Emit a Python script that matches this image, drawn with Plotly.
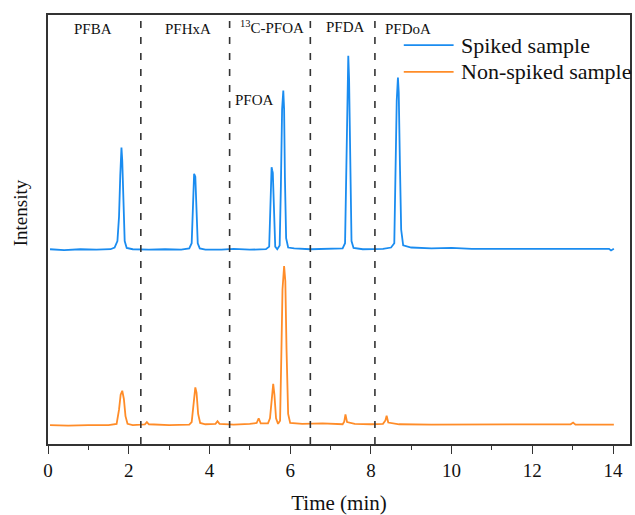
import plotly.graph_objects as go

# Spiked sample chromatogram (time in min, intensity in arbitrary units)
spiked_time = [0.05, 0.4, 0.8, 1.2, 1.55, 1.65, 1.72, 1.76, 1.79, 1.82, 1.84, 1.87, 1.9, 1.95,
               2.1, 2.5, 2.9, 3.3, 3.5, 3.56, 3.59, 3.62, 3.65, 3.68, 3.71, 3.76, 3.9,
               4.3, 4.6, 5.0, 5.4, 5.48, 5.52, 5.54, 5.555, 5.57, 5.6, 5.63, 5.68,
               5.74, 5.77, 5.8, 5.83, 5.85, 5.87, 5.9, 5.95, 6.1, 6.5, 7.0, 7.3,
               7.36, 7.39, 7.42, 7.44, 7.46, 7.49, 7.52, 7.57, 7.8, 8.3, 8.5,
               8.58, 8.61, 8.64, 8.67, 8.69, 8.72, 8.75, 8.8, 9.0, 9.5, 10.0, 10.5,
               11.0, 11.5, 12.0, 12.5, 13.0, 13.5, 13.9, 13.95, 14.02]
spiked_int = [45.4, 45.2, 45.4, 45.3, 45.4, 45.8, 47.3, 53.0, 62.5, 69.1, 66.0, 55.0, 47.3, 45.7,
              45.4, 45.3, 45.4, 45.3, 45.6, 46.8, 54.0, 63.0, 62.3, 54.0, 46.8, 45.6, 45.3,
              45.3, 45.5, 45.3, 45.4, 46.0, 56.0, 64.5, 63.8, 63.2, 52.0, 46.0, 45.4,
              46.3, 60.0, 78.0, 82.4, 78.0, 62.0, 48.0, 45.8, 45.6, 45.4, 45.6, 45.6,
              46.8, 62.0, 85.0, 90.5, 85.0, 62.0, 47.3, 45.7, 45.4, 45.5, 45.8,
              46.8, 62.0, 80.0, 85.4, 82.0, 65.0, 50.0, 46.3, 45.8, 45.6, 45.7, 45.5,
              45.5, 45.6, 45.6, 45.5, 45.5, 45.6, 45.5, 45.1, 45.5]

# Non-spiked sample chromatogram
nonspiked_time = [0.05, 0.5, 1.0, 1.5, 1.7, 1.76, 1.8, 1.84, 1.88, 1.92, 1.97, 2.1, 2.3, 2.4,
                  2.45, 2.5, 3.0, 3.5, 3.56, 3.6, 3.65, 3.68, 3.72, 3.77, 3.9, 4.15, 4.2, 4.25,
                  4.6, 5.0, 5.17, 5.22, 5.27, 5.45, 5.5, 5.55, 5.58, 5.61, 5.65, 5.7,
                  5.75, 5.78, 5.81, 5.85, 5.88, 5.91, 5.95, 6.0, 6.3, 6.8, 7.3, 7.34,
                  7.37, 7.41, 7.6, 8.0, 8.3, 8.36, 8.39, 8.43, 8.7, 9.5, 10.5, 11.5,
                  12.5, 12.95, 13.01, 13.07, 14.02]
nonspiked_int = [4.4, 4.3, 4.4, 4.4, 4.7, 8.0, 11.5, 12.4, 10.5, 6.5, 4.7, 4.4, 4.5, 4.6,
                 5.1, 4.6, 4.4, 4.5, 5.1, 9.0, 13.2, 12.0, 7.0, 4.9, 4.6, 4.7, 5.3, 4.7,
                 4.5, 4.7, 4.9, 6.0, 4.8, 4.8, 6.0, 11.0, 14.0, 11.5, 6.0, 4.7,
                 5.4, 20.0, 36.0, 41.5, 38.0, 22.0, 7.0, 4.9, 4.7, 4.8, 4.6, 5.2,
                 6.9, 5.1, 4.7, 4.6, 4.7, 5.5, 6.6, 5.0, 4.6, 4.5, 4.5, 4.5,
                 4.5, 4.6, 5.0, 4.5, 4.5]

series_names = ["Spiked sample", "Non-spiked sample"]
series_colors = ["#1A8CF0", "#FF8C28"]

boundaries = [2.3, 4.5, 6.5, 8.1]
region_labels = ["PFBA", "PFHxA", "<sup>13</sup>C-PFOA", "PFDA", "PFDoA"]
region_label_x = [1.12, 3.46, 5.56, 7.36, 8.91]
region_label_y = [96.7, 96.7, 97.2, 97.2, 96.7]
pfoa_label = "PFOA"
pfoa_label_x = 5.11
pfoa_label_y = 80.2

FONT = "Liberation Serif"
AX = "#333333"

fig = go.Figure()
fig.add_trace(go.Scatter(x=spiked_time, y=spiked_int, mode="lines", name=series_names[0],
                         line=dict(color=series_colors[0], width=1.8), showlegend=False))
fig.add_trace(go.Scatter(x=nonspiked_time, y=nonspiked_int, mode="lines", name=series_names[1],
                         line=dict(color=series_colors[1], width=1.8), showlegend=False))

for b in boundaries:
    fig.add_shape(type="line", x0=b, x1=b, xref="x", y0=0, y1=1, yref="paper",
                  line=dict(color=AX, width=1.6, dash="7px,9px"))

for t, lx, ly in zip(region_labels, region_label_x, region_label_y):
    fig.add_annotation(x=lx, y=ly, xref="x", yref="y", text=t, showarrow=False,
                       xanchor="center", yanchor="middle",
                       font=dict(family=FONT, size=15, color="#111111"))
fig.add_annotation(x=pfoa_label_x, y=pfoa_label_y, xref="x", yref="y", text=pfoa_label,
                   showarrow=False, xanchor="center", yanchor="middle",
                   font=dict(family=FONT, size=15, color="#111111"))

fig.add_annotation(x=-0.048, y=0.538, xref="paper", yref="paper", text="Intensity",
                   textangle=-90, showarrow=False, xanchor="center", yanchor="middle",
                   font=dict(family=FONT, size=19, color="#111111"))

# Legend (drawn as key lines + text, placed in the upper right of the frame)
legend_rows_y = [0.930, 0.8674]
for name, color, ry in zip(series_names, series_colors, legend_rows_y):
    fig.add_shape(type="line", xref="paper", yref="paper", x0=0.6113, x1=0.6969, y0=ry, y1=ry,
                  line=dict(color=color, width=1.8))
    fig.add_annotation(x=0.7055, y=ry, xref="paper", yref="paper", text=name, showarrow=False,
                       xanchor="left", yanchor="middle",
                       font=dict(family=FONT, size=22, color="#111111"))

fig.update_layout(
    width=635, height=515,
    margin=dict(l=48, r=3, t=15, b=70),
    paper_bgcolor="white", plot_bgcolor="white",
    font=dict(family=FONT, size=19, color="#111111"),
    showlegend=False,
    xaxis=dict(range=[0, 14.42], dtick=2, tick0=0, ticks="outside", ticklen=8, tickwidth=1.4,
               tickcolor=AX, showline=True, linecolor=AX, linewidth=1.5, mirror=True,
               showgrid=False, zeroline=False,
               minor=dict(dtick=1, ticks="outside", ticklen=4, tickwidth=1.2, tickcolor=AX, showgrid=False),
               title=dict(text="Time (min)", font=dict(family=FONT, size=21), standoff=17),
               tickfont=dict(family=FONT, size=19)),
    yaxis=dict(range=[0, 100], showticklabels=False, ticks="", showline=True, linecolor=AX,
               linewidth=1.5, mirror=True, showgrid=False, zeroline=False),
)

fig.write_html("out.html")
